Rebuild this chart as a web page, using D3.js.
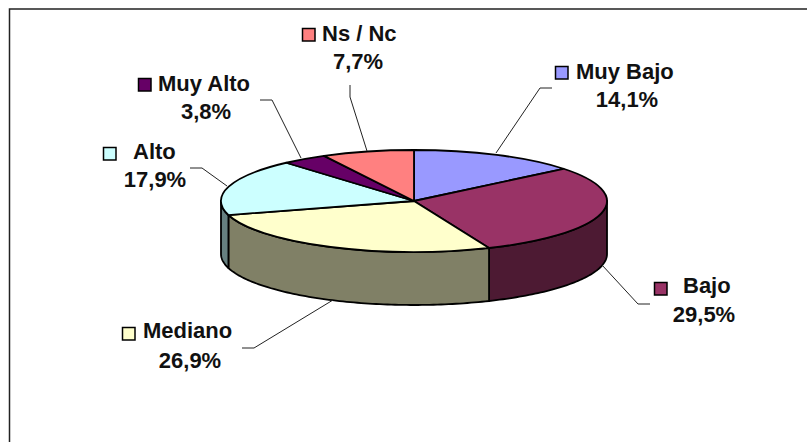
<!DOCTYPE html>
<html><head><meta charset="utf-8">
<script src="https://cdn.jsdelivr.net/npm/d3@7"></script>
<style>html,body{margin:0;padding:0;background:#fff}svg{display:block}
text{font-family:"Liberation Sans",Arial,sans-serif;font-weight:bold;font-size:22px;fill:#111}</style>
</head><body><svg id="c" width="807" height="442"></svg>
<script>
const categories=["Muy Bajo","Bajo","Mediano","Alto","Muy Alto","Ns / Nc"];
const values=[14.1,29.5,26.9,17.9,3.8,7.7];
const valueLabels=["14,1%","29,5%","26,9%","17,9%","3,8%","7,7%"];
const topColors=["#9999ff","#993366","#ffffcc","#ccffff","#660066","#ff8080"];
const sideColors=["#4d4d80","#4d1a33","#808066","#668080","#330033","#804040"];
// label layout: swatch x, swatch y, name x, name baseline, value centre x, value baseline
const labelLayout=[
 {sx:555,sy:66,nx:576,ny:79,vx:627,vy:107},
 {sx:654,sy:282,nx:683,ny:293,vx:704,vy:322},
 {sx:122,sy:327,nx:143,ny:338,vx:190,vy:368},
 {sx:103,sy:147,nx:133,ny:159,vx:155,vy:187},
 {sx:138,sy:78,nx:158,ny:91,vx:206,vy:119},
 {sx:302,sy:28,nx:322,ny:41,vx:358,vy:69}];
const leaders=[
 [[496,153],[540,88],[552,88]],
 [[602,265],[638,304],[650,304]],
 [[333,300],[254,348],[242,348]],
 [[227,186],[202,168],[190,168]],
 [[301,158],[272,100],[260,100]],
 [[367,151],[350,97],[350,85]]];
const cx=414,cy=201,rx=193,ry=51,depth=53;

const svg=d3.select("#c");
svg.append("path").attr("d",d3.line()([[9.5,442],[9.5,9],[807,9]]))
  .attr("fill","none").attr("stroke","#222").attr("stroke-width",1.5);

const pie=d3.pie().sort(null).value(d=>d);
const arcs=pie(values);
const pt=(a,dy=0)=>[cx+rx*Math.sin(a),cy-ry*Math.cos(a)+dy];
const samples=(a0,a1)=>{const n=Math.max(2,Math.ceil((a1-a0)/0.02));return d3.range(n+1).map(i=>a0+(a1-a0)*i/n);};
const line=d3.line();
const edge=1.8;

// side walls: only the front half of the rim (90° to 270°) faces the viewer
arcs.forEach((d,i)=>{
  const a0=Math.max(d.startAngle,Math.PI/2),a1=Math.min(d.endAngle,3*Math.PI/2);
  if(a1<=a0)return;
  const s=samples(a0,a1);
  const p=s.map(a=>pt(a)).concat(s.slice().reverse().map(a=>pt(a,depth)));
  svg.append("path").attr("d",line(p)+"Z").attr("fill",sideColors[i])
    .attr("stroke","#000").attr("stroke-width",edge).attr("stroke-linejoin","round");
});
// top face
const arcGen=d3.arc().innerRadius(0).outerRadius(1);
arcs.forEach((d,i)=>{
  svg.append("path").attr("d",arcGen(d)).attr("transform",`translate(${cx},${cy}) scale(${rx},${ry})`)
    .attr("fill",topColors[i]).attr("stroke","#000").attr("stroke-width",edge)
    .attr("vector-effect","non-scaling-stroke").attr("stroke-linejoin","round");
});
// leaders
leaders.forEach(l=>svg.append("path").attr("d",line(l)).attr("fill","none").attr("stroke","#222").attr("stroke-width",1));
// labels
categories.forEach((c,i)=>{
  const l=labelLayout[i];
  svg.append("rect").attr("x",l.sx+.5).attr("y",l.sy+.5).attr("width",12.5).attr("height",12.5)
    .attr("fill",topColors[i]).attr("stroke","#000").attr("stroke-width",1.5);
  svg.append("text").attr("x",l.nx).attr("y",l.ny).text(c);
  svg.append("text").attr("x",l.vx).attr("y",l.vy).attr("text-anchor","middle").text(valueLabels[i]);
});
</script></body></html>
